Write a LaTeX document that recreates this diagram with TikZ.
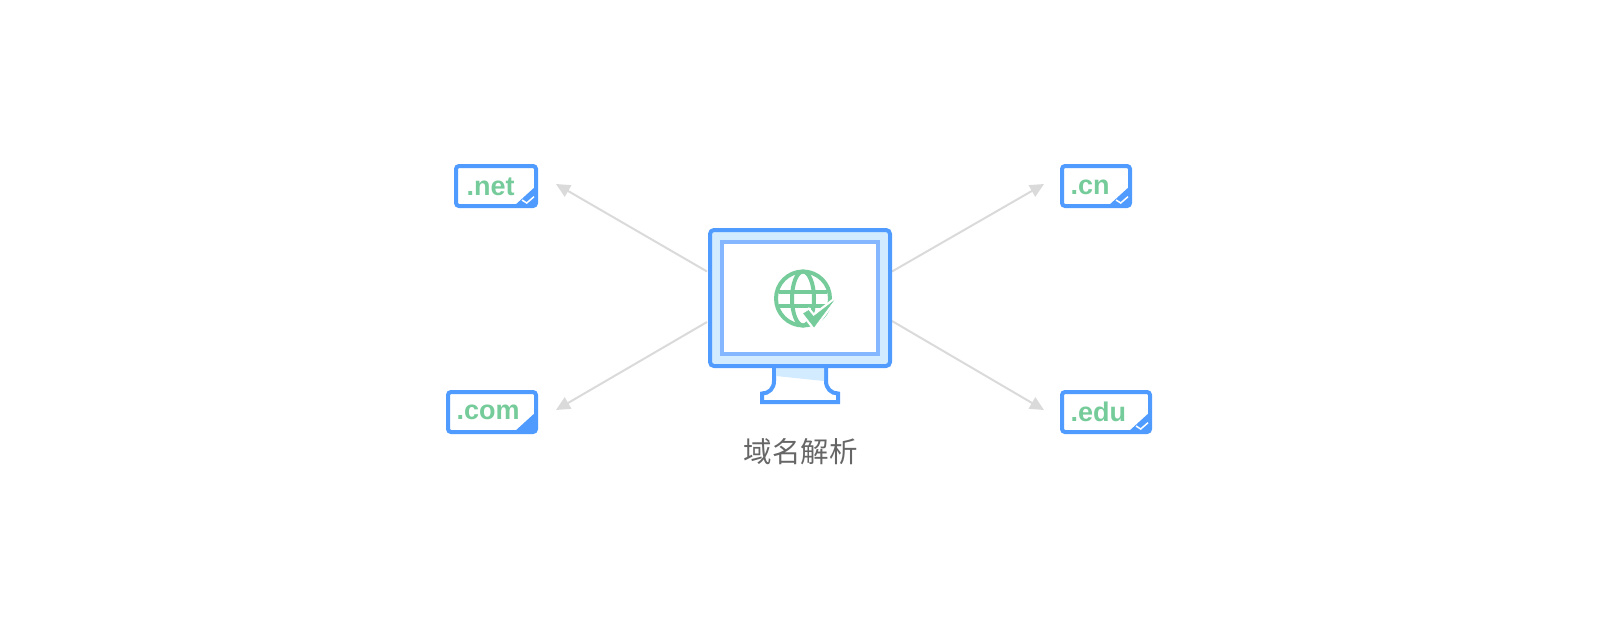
\documentclass[tikz,border=0pt]{standalone}
\usepackage{fontspec}
\newfontfamily\labelfont{Liberation Sans}
\newfontfamily\cjk{Noto Sans CJK SC}
\usetikzlibrary{arrows.meta}

\definecolor{blueline}{HTML}{4F9BFF}
\definecolor{bluebezel}{HTML}{84B7FF}
\definecolor{bluelight}{HTML}{D2EBFF}
\definecolor{greenmark}{HTML}{75CC9A}
\definecolor{greyline}{HTML}{DADADA}
\definecolor{greytext}{HTML}{666666}

\newcommand{\tagfold}[1]{\fill[blueline] ([xshift=-22pt]#1.south east) -- ([yshift=20pt]#1.south east) -- (#1.south east) -- cycle;}
\newcommand{\tagtick}[1]{\draw[white, line width=1.5pt] ([shift={(-14pt,6pt)}]#1.south east) -- ([shift={(-9.3pt,3pt)}]#1.south east) -- ([shift={(-2pt,9.3pt)}]#1.south east);}

\begin{document}
\begin{tikzpicture}[x=1pt, y=-1pt,
  tagbox/.style = {draw=blueline, line width=4pt, rounded corners=3pt, fill=white, outer sep=0pt, inner sep=0pt, minimum height=40pt},
  taglabel/.style = {anchor=base west, inner sep=0pt, text=greenmark, font=\labelfont\bfseries\fontsize{27}{27}\selectfont},
  link/.style = {draw=greyline, line width=2pt, -{Triangle[length=14pt, width=13pt]}}]
\useasboundingbox (0,0) rectangle (1600,632);

%links
\coordinate (netfrom) at (707,271.5);
\coordinate (comfrom) at (707,322);
\coordinate (cnfrom) at (892,271.5);
\coordinate (edufrom) at (892,321);
\coordinate (netend) at (556,184);
\coordinate (comend) at (556,410);
\coordinate (cnend) at (1044,184);
\coordinate (eduend) at (1044,410);
\draw[link] (netfrom) -- (netend);
\draw[link] (comfrom) -- (comend);
\draw[link] (cnfrom) -- (cnend);
\draw[link] (edufrom) -- (eduend);

%stand
\draw[blueline, line width=4pt, fill=white] (774,366) -- (774,381) .. controls (774,388.5) and (769,393.5) .. (762,393.5) -- (762,402) -- (838,402) -- (838,393.5) .. controls (831,393.5) and (826,388.5) .. (826,381) -- (826,366);
\fill[bluelight] (776,368) -- (776,376) -- (824,381) -- (824,368) -- cycle;

%monitor
\node[draw=blueline, fill=bluelight, line width=4pt, rounded corners=4pt, outer sep=0pt, minimum width=180pt, minimum height=136pt] (monitor) at (800,298) {};
\node[draw=bluebezel, fill=white, line width=4pt, outer sep=0pt, minimum width=156pt, minimum height=112pt] (screen) at (800,298) {};

%globe
\draw[greenmark, line width=4pt] (803,298.5) circle [radius=27];
\draw[greenmark, line width=4pt] (803,298.5) ellipse [x radius=11, y radius=27];
\draw[greenmark, line width=4pt] (779,291.5) -- (827,291.5);
\draw[greenmark, line width=4pt] (779,306) -- (827,306);
\filldraw[greenmark, preaction={draw=white, line width=5pt}] (803.5,313.5) -- (808.5,310.5) -- (813.5,316.5) -- (833,301.5) -- (814,327) -- cycle;

%tags
\node[tagbox, minimum width=80pt] (net) at (496,186) {};
\node[tagbox, minimum width=88pt] (com) at (492,412) {};
\node[tagbox, minimum width=68pt] (cn) at (1096,186) {};
\node[tagbox, minimum width=88pt] (edu) at (1106,412) {};
\node[taglabel] (netlabel) at (466.5,195.5) {.net};
\node[taglabel] (comlabel) at (456.5,419.5) {.com};
\node[taglabel] (cnlabel) at (1070.5,194) {.cn};
\node[taglabel] (edulabel) at (1070.5,421.5) {.edu};

\tagfold{net}
\tagfold{com}
\tagfold{cn}
\tagfold{edu}
\tagtick{net}
\tagtick{cn}
\tagtick{edu}

\node[text=greytext, font=\cjk\fontsize{28.5}{28.5}\selectfont, inner sep=0pt] (caption) at (800.5,452) {域名解析};
\end{tikzpicture}
\end{document}
